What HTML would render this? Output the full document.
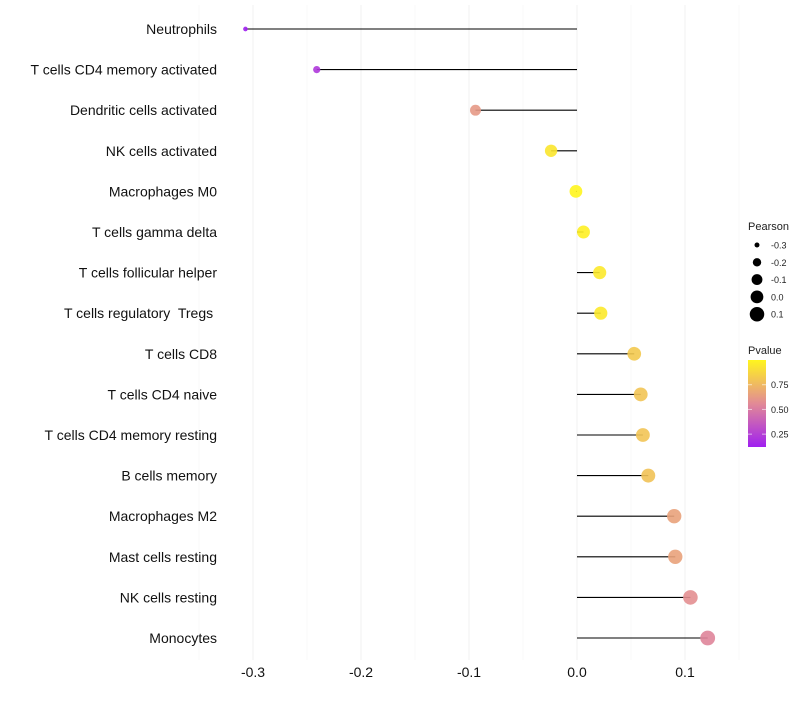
<!DOCTYPE html>
<html><head><meta charset="utf-8"><style>
body{margin:0;background:#fff;font-family:"Liberation Sans",sans-serif}
text{white-space:pre}
</style></head><body>
<svg id="c" width="800" height="700" xmlns="http://www.w3.org/2000/svg"></svg>
<script>
const cells=["Neutrophils","T cells CD4 memory activated","Dendritic cells activated","NK cells activated","Macrophages M0","T cells gamma delta","T cells follicular helper","T cells regulatory  Tregs ","T cells CD8","T cells CD4 naive","T cells CD4 memory resting","B cells memory","Macrophages M2","Mast cells resting","NK cells resting","Monocytes"];
const pearson=[-0.307,-0.241,-0.094,-0.024,-0.001,0.006,0.021,0.022,0.053,0.059,0.061,0.066,0.090,0.091,0.105,0.121];
const pvalue=[0.12,0.22,0.62,0.94,1.0,0.98,0.95,0.95,0.82,0.8,0.8,0.79,0.66,0.66,0.58,0.54];
const xTicks=[-0.3,-0.2,-0.1,0.0,0.1];
const xTickLabels=["-0.3","-0.2","-0.1","0.0","0.1"];
const sizeLegend=[-0.3,-0.2,-0.1,0.0,0.1];
const sizeLegendLabels=["-0.3","-0.2","-0.1","0.0","0.1"];
const pLegend=[0.25,0.5,0.75];
const pLegendLabels=["0.25","0.50","0.75"];
const svg=document.getElementById('c');const NS="http://www.w3.org/2000/svg";
function mk(t,a,p){const e=document.createElementNS(NS,t);for(const k in a)e.setAttribute(k,a[k]);(p||svg).appendChild(e);return e;}
const X=v=>577+v*1080;
const Y=i=>29+i*(638-29)/15;
const R=v=>Math.sqrt(5+(v+0.31)/(0.431)*50);
function lerp(a,b,t){return a.map((x,i)=>Math.round(x+(b[i]-x)*t));}
function col(p){const lo=[160,32,240],mid=[226,138,150],hi=[255,245,30];
const t=Math.max(0,Math.min(1,(p-0.12)/(1-0.12)));
const c=t<0.5?lerp(lo,mid,t/0.5):lerp(mid,hi,(t-0.5)/0.5);return `rgb(${c})`;}
[-0.35,-0.25,-0.15,-0.05,0.05,0.15].forEach(v=>{const l=mk('line',{x1:X(v),x2:X(v),y1:5,y2:660,stroke:'#f7f7f7','stroke-width':0.6});
});
xTicks.forEach((v,i)=>{const l=mk('line',{x1:X(v),x2:X(v),y1:5,y2:660,stroke:'#f0f0f0','stroke-width':1});

const t=mk('text',{x:X(v),y:677,'text-anchor':'middle','font-size':14,fill:'#111'});t.textContent=xTickLabels[i];
});
cells.forEach((c,i)=>{const y=Y(i);
const t=mk('text',{x:217,y:y+5,'text-anchor':'end','font-size':14,fill:'#111'});t.textContent=c;

const l=mk('line',{x1:X(0),x2:X(pearson[i]),y1:y,y2:y,stroke:'#000','stroke-width':1.1});

const d=mk('circle',{cx:X(pearson[i]),cy:y,r:R(pearson[i]),fill:col(pvalue[i]),'fill-opacity':0.9});
});
const st=mk('text',{x:748,y:230,'font-size':11,fill:'#222'});st.textContent='Pearson';

sizeLegend.forEach((v,i)=>{const y=245+i*17.3;
const c=mk('circle',{cx:757,cy:y,r:R(v),fill:'#000'});
const t=mk('text',{x:771,y:y+3.5,'font-size':9,fill:'#222'});t.textContent=sizeLegendLabels[i];
});
const pt=mk('text',{x:748,y:354,'font-size':11,fill:'#222'});pt.textContent='Pvalue';

const defs=mk('defs',{});const g=mk('linearGradient',{id:'pg',x1:0,y1:1,x2:0,y2:0},defs);
[0,0.25,0.5,0.75,1].forEach(s=>mk('stop',{offset:s,'stop-color':col(0.12+s*0.88)},g));
const PY=p=>447-(p-0.12)/0.88*87;
const bar=mk('rect',{x:748,y:360,width:18,height:87,fill:'url(#pg)'});

pLegend.forEach((v,i)=>{const y=PY(v);
mk('line',{x1:748,x2:752,y1:y,y2:y,stroke:'#fff','stroke-opacity':0.6});mk('line',{x1:762,x2:766,y1:y,y2:y,stroke:'#fff','stroke-opacity':0.6});
const t=mk('text',{x:771,y:y+3.5,'font-size':9,fill:'#222'});t.textContent=pLegendLabels[i];
});
</script></body></html>
